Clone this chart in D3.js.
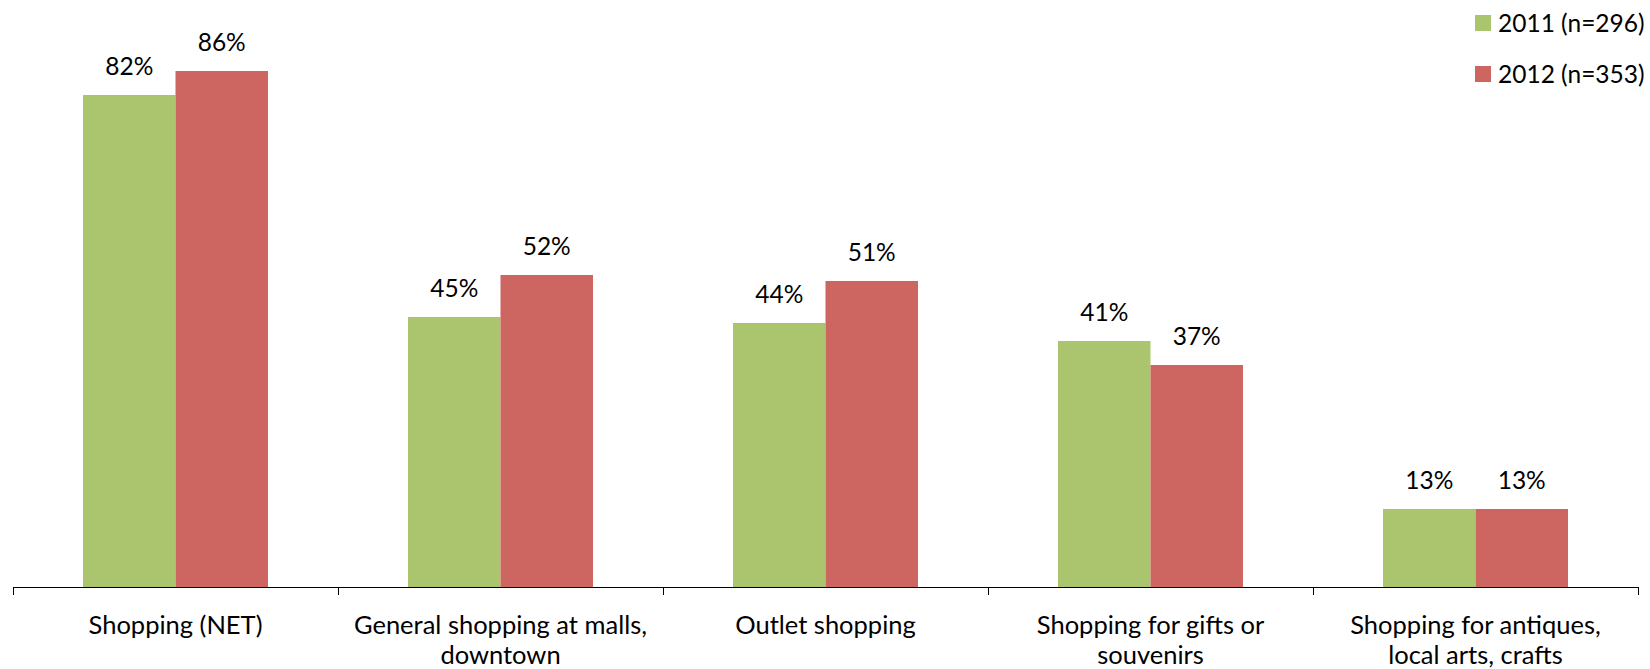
<!DOCTYPE html>
<html>
<head>
<meta charset="utf-8">
<script src="https://cdn.jsdelivr.net/npm/d3@7"></script>
<style>
  html, body { margin: 0; padding: 0; background: #fff; }
  svg text { font-family: Lato, "Open Sans", sans-serif; fill: #000; }
</style>
</head>
<body>
<svg id="chart" width="1650" height="669"></svg>
<script>
// Shopping activities by survey year (percent of respondents)
const categories = [
  ["Shopping (NET)"],
  ["General shopping at malls,", "downtown"],
  ["Outlet shopping"],
  ["Shopping for gifts or", "souvenirs"],
  ["Shopping for antiques,", "local arts, crafts"]
];
const seriesNames = ["2011 (n=296)", "2012 (n=353)"];
const values2011 = [82, 45, 44, 41, 13];
const values2012 = [86, 52, 51, 37, 13];
const seriesColors = ["#abc56e", "#cd6660"];

const seriesValues = [values2011, values2012];
const catKeys = categories.map(c => c.join(" "));

const svg = d3.select("#chart");
const left = 13, right = 1638, baseY = 587, topY = 47;

const x0 = d3.scaleBand().domain(catKeys).range([left, right]).paddingInner(0).paddingOuter(0);
const x1 = d3.scaleBand().domain(seriesNames).range([0, x0.bandwidth()]).paddingInner(0).paddingOuter(0.757);
const y = d3.scaleLinear().domain([0, 90]).range([baseY, topY]);

// bars
const groups = svg.append("g").selectAll("g")
  .data(catKeys)
  .join("g")
  .attr("transform", d => `translate(${x0(d)},0)`);

groups.selectAll("rect")
  .data((d, i) => seriesNames.map((s, j) => ({ s, j, v: seriesValues[j][i] })))
  .join("rect")
  .attr("x", d => x1(d.s))
  .attr("width", x1.bandwidth())
  .attr("y", d => y(d.v))
  .attr("height", d => baseY - y(d.v))
  .attr("fill", d => seriesColors[d.j]);

// value labels
groups.selectAll("text.val")
  .data((d, i) => seriesNames.map((s, j) => ({ s, j, v: seriesValues[j][i] })))
  .join("text")
  .attr("class", "val")
  .attr("x", d => x1(d.s) + x1.bandwidth() / 2)
  .attr("y", d => y(d.v) - 20)
  .attr("text-anchor", "middle")
  .style("font-size", "24.5px")
  .text(d => d.v + "%");

// category axis
const axis = d3.axisBottom(x0).tickSize(0).tickFormat("");
const axisG = svg.append("g").attr("transform", `translate(0,${baseY})`).call(axis);
axisG.select(".domain").attr("stroke", "#000").attr("stroke-width", 1);
axisG.selectAll(".tick").remove();

// separator ticks between categories
const bounds = catKeys.map(k => x0(k)).concat([right]);
svg.append("g").selectAll("line")
  .data(bounds)
  .join("line")
  .attr("x1", d => Math.round(d) + 0.5)
  .attr("x2", d => Math.round(d) + 0.5)
  .attr("y1", baseY)
  .attr("y2", baseY + 8)
  .attr("stroke", "#000");

// category labels
svg.append("g").selectAll("text")
  .data(categories)
  .join("text")
  .attr("x", (d, i) => x0(catKeys[i]) + x0.bandwidth() / 2)
  .attr("y", 634)
  .attr("text-anchor", "middle")
  .style("font-size", "25.5px")
  .selectAll("tspan")
  .data(d => d)
  .join("tspan")
  .attr("x", function () { return this.parentNode.getAttribute("x"); })
  .attr("dy", (d, i) => i === 0 ? 0 : 30)
  .text(d => d);

// legend
const legend = svg.append("g").selectAll("g")
  .data(seriesNames)
  .join("g")
  .attr("transform", (d, i) => `translate(1475,${15 + i * 51})`);
legend.append("rect")
  .attr("width", 16).attr("height", 16)
  .attr("fill", (d, i) => seriesColors[i]);
legend.append("text")
  .attr("x", 23).attr("y", 17)
  .style("font-size", "24.5px")
  .text(d => d);
</script>
</body>
</html>
